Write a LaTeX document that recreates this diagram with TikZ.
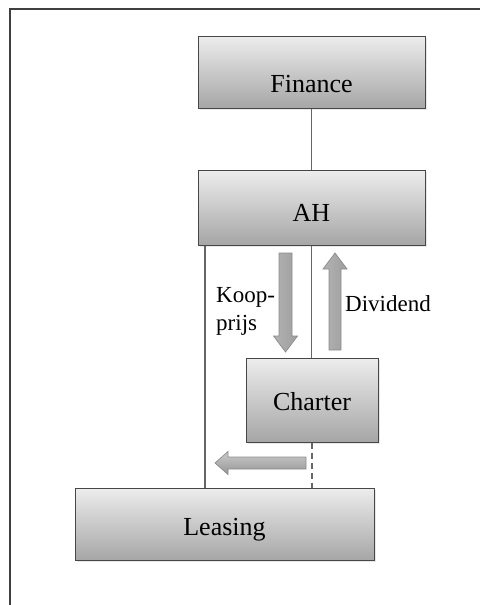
\documentclass[tikz,border=0pt]{standalone}
\usepackage{fontspec}
\setmainfont{Liberation Serif}
\usetikzlibrary{shadows}
\tikzset{
  boxstyle/.style={draw=black!72, line width=1pt, rectangle, inner sep=0pt,
    top color=black!7, bottom color=black!35,
    drop shadow={opacity=0.18, shadow xshift=1.5pt, shadow yshift=-1.5pt},
    font=\fontsize{26}{30}\selectfont, text depth=0pt},
  linkstyle/.style={draw=black!60, line width=1.1pt},
  varrow/.style={draw=black!45, line width=0.7pt, left color=black!30, middle color=black!10, right color=black!38},
  harrow/.style={draw=black!45, line width=0.7pt, top color=black!20, middle color=black!8, bottom color=black!42},
  lbl/.style={font=\fontsize{23}{28}\selectfont, align=left, inner sep=0pt}
}
\begin{document}
\begin{tikzpicture}[x=1pt,y=-1pt]
\useasboundingbox (0,0) rectangle (480,605);
\draw[draw=black!75, line width=1.4pt] (10,605) -- (10,9) -- (480,9);
% boxes
\node[boxstyle, minimum width=227pt, minimum height=72pt, text height=41pt] (fin) at (311.5,72) {Finance};
\node[boxstyle, minimum width=227pt, minimum height=75pt, text height=27pt] (ah) at (311.5,207.5) {AH};
\node[boxstyle, minimum width=132pt, minimum height=84pt, text height=21pt] (ch) at (312,400) {Charter};
\node[boxstyle, minimum width=299pt, minimum height=72pt, text height=23pt] (le) at (224.5,524) {Leasing};
% connectors
\coordinate (lx) at (205,0);
\draw[linkstyle] (fin.south) -- (ah.north);
\draw[linkstyle] (lx |- ah.south) -- (lx |- le.north);
\draw[linkstyle] (ah.south) -- (ah.south |- ch.north);
\draw[linkstyle, dash pattern=on 6pt off 4pt] (ch.south) -- (ch.south |- le.north);
% block arrows
\path[varrow] (279,253) -- (292,253) -- (292,336) -- (297.5,336) -- (285.5,352) -- (273.5,336) -- (279,336) -- cycle;
\path[varrow] (329,350) -- (341,350) -- (341,269) -- (347,269) -- (335,253) -- (323,269) -- (329,269) -- cycle;
\path[harrow] (306,457) -- (306,469) -- (228,469) -- (228,474.5) -- (215,463) -- (228,451.5) -- (228,457) -- cycle;
% labels
\node[lbl, anchor=west] (kp) at (216,311) {Koop-\\prijs};
\node[lbl, anchor=west] (dv) at (345,304) {Dividend};
\end{tikzpicture}
\end{document}
